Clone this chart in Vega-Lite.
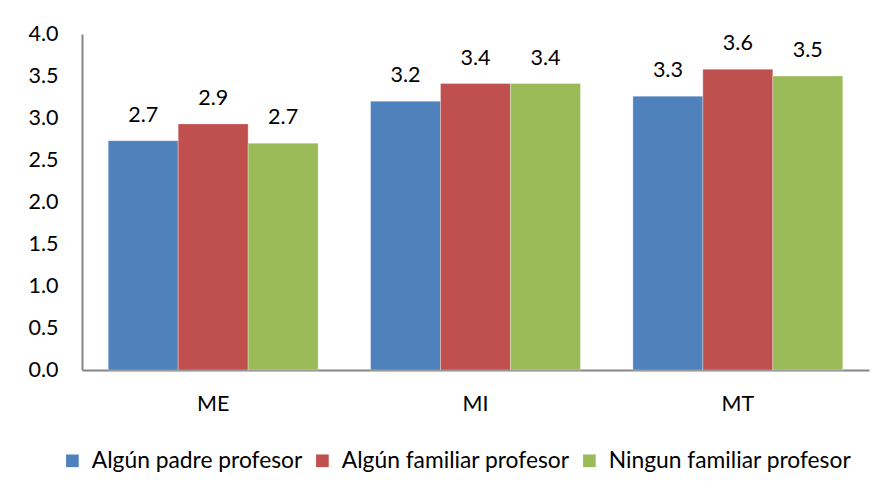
{
  "$schema": "https://vega.github.io/schema/vega-lite/v6.json",
  "width": 787,
  "height": 336,
  "autosize": {"type": "none"},
  "padding": {"left": 82, "top": 34, "right": 21, "bottom": 121},
  "background": "white",
  "config": {
    "font": "Lato",
    "view": {"stroke": null},
    "axis": {"labelFont": "Lato", "labelFontSize": 21.5, "labelColor": "#000000", "grid": false, "ticks": false, "domainColor": "#868686", "domainWidth": 2}
  },
  "data": {
    "values": [
      {"cat": "ME", "grupo": "Algún padre profesor", "valor": 2.73},
      {"cat": "ME", "grupo": "Algún familiar profesor", "valor": 2.93},
      {"cat": "ME", "grupo": "Ningun familiar profesor", "valor": 2.70},
      {"cat": "MI", "grupo": "Algún padre profesor", "valor": 3.20},
      {"cat": "MI", "grupo": "Algún familiar profesor", "valor": 3.41},
      {"cat": "MI", "grupo": "Ningun familiar profesor", "valor": 3.41},
      {"cat": "MT", "grupo": "Algún padre profesor", "valor": 3.26},
      {"cat": "MT", "grupo": "Algún familiar profesor", "valor": 3.58},
      {"cat": "MT", "grupo": "Ningun familiar profesor", "valor": 3.50}
    ]
  },
  "encoding": {
    "x": {"field": "cat", "type": "nominal", "title": null, "scale": {"paddingInner": 0.2, "paddingOuter": 0.1},
      "axis": {"labelAngle": 0, "labelPadding": 23}},
    "xOffset": {"field": "grupo", "type": "nominal", "sort": ["Algún padre profesor", "Algún familiar profesor", "Ningun familiar profesor"], "scale": {"paddingInner": 0, "paddingOuter": 0}},
    "y": {"field": "valor", "type": "quantitative", "title": null, "scale": {"domain": [0, 4], "nice": false},
      "axis": {"values": [0, 0.5, 1, 1.5, 2, 2.5, 3, 3.5, 4], "format": ".1f", "labelPadding": 24}}
  },
  "layer": [
    {
      "mark": {"type": "bar", "stroke": "white", "strokeWidth": 0.5, "strokeOpacity": 0.6},
      "encoding": {
        "color": {"field": "grupo", "type": "nominal", "sort": ["Algún padre profesor", "Algún familiar profesor", "Ningun familiar profesor"],
          "scale": {"domain": ["Algún padre profesor", "Algún familiar profesor", "Ningun familiar profesor"], "range": ["#4F81BD", "#C0504D", "#9BBB59"]},
          "legend": {"title": null, "orient": "none", "legendX": -21, "legendY": 415, "direction": "horizontal", "symbolType": "square", "symbolSize": 160, "symbolStrokeWidth": 0, "labelFontSize": 22.8, "labelFont": "Lato", "labelColor": "#000000", "columnPadding": 8, "labelOffset": 8, "labelLimit": 400}
        }
      }
    },
    {
      "mark": {"type": "text", "baseline": "bottom", "dy": -14, "fontSize": 21.5, "font": "Lato", "color": "#000000"},
      "encoding": {
        "text": {"field": "valor", "type": "quantitative", "format": ".1f"}
      }
    }
  ]
}
